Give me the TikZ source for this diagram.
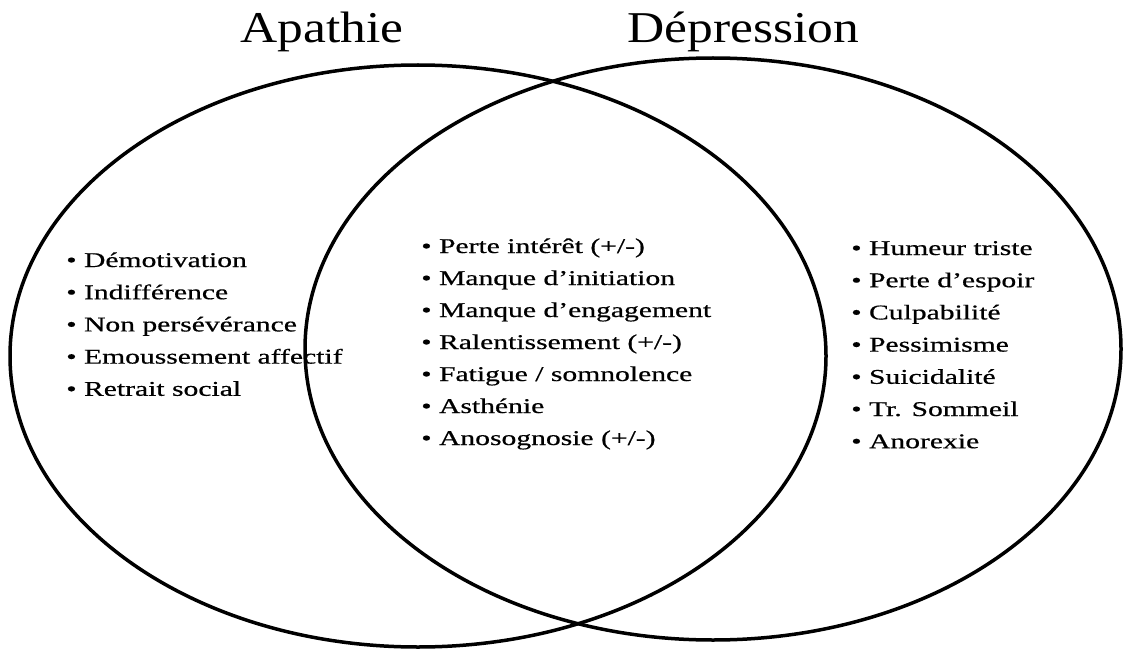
\documentclass[tikz,border=0pt]{standalone}
\usepackage{fontspec}
\setmainfont{Liberation Serif}
\newfontfamily\itemfont[FakeBold=0.5]{Liberation Serif}
\begin{document}
\begin{tikzpicture}[x=1pt,y=-1pt,
  ring/.style={line width=3.5pt,draw=black},
  title/.style={anchor=base west,inner sep=0pt,xscale=1.17,font=\fontsize{44}{50}\selectfont},
  item/.style={anchor=base west,inner sep=0pt,xscale=1.41,font=\itemfont\fontsize{21}{24}\selectfont}]
\useasboundingbox (0,0) rectangle (1124,650);
\draw[ring] (418,356) ellipse [x radius=408, y radius=291];
\draw[ring] (713,349) ellipse [x radius=408, y radius=291];
\node[title] (tA) at (240,43) {Apathie};
\node[title] (tD) at (627,43) {Dépression};
\foreach \t [count=\i] in {Démotivation,Indifférence,Non persévérance,Emoussement affectif,Retrait social}
  \node[item] (L\i) at (66,{267+32.2*(\i-1)}) {• \t};
\foreach \t [count=\i] in {Perte intérêt (+/-),Manque d’initiation,Manque d’engagement,Ralentissement (+/-),Fatigue / somnolence,Asthénie,Anosognosie (+/-)}
  \node[item] (C\i) at (421,{253+32*(\i-1)}) {• \t};
\foreach \t [count=\i] in {Humeur triste,Perte d’espoir,Culpabilité,Pessimisme,Suicidalité,Tr. Sommeil,Anorexie}
  \node[item] (R\i) at (851,{255+32.2*(\i-1)}) {• \t};
\end{tikzpicture}
\end{document}
